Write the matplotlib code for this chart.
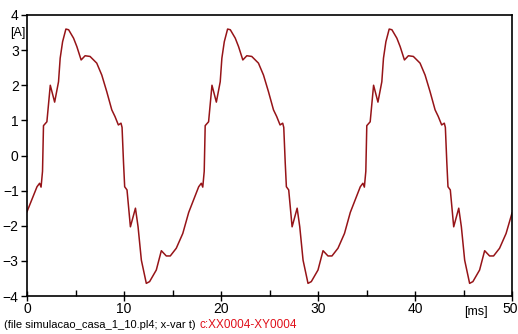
import matplotlib
matplotlib.use("Agg")
import matplotlib.pyplot as plt
from matplotlib.ticker import MultipleLocator

plt.rcParams['font.family'] = ['Liberation Sans', 'DejaVu Sans']

# time [ms]
t_ms = [
    0.00, 1.03, 1.30, 1.45, 1.60, 1.70, 2.05, 2.40, 2.85, 3.25, 3.42, 3.67, 4.01, 4.29,
    4.80, 5.14, 5.58, 5.99, 6.50, 7.19, 7.71, 8.22, 8.74, 9.07, 9.42, 9.69, 9.80, 9.95,
    10.07, 10.31, 10.66, 11.18, 11.45, 11.79, 12.30, 12.64, 13.33, 13.85, 14.36, 14.77,
    15.39, 16.06,
    16.67, 17.70, 17.97, 18.12, 18.27, 18.37, 18.72, 19.07, 19.52, 19.92, 20.09, 20.34,
    20.68, 20.96, 21.47, 21.81, 22.25, 22.66, 23.17, 23.86, 24.38, 24.89, 25.41, 25.74,
    26.09, 26.36, 26.47, 26.62, 26.74, 26.98, 27.33, 27.85, 28.12, 28.46, 28.97, 29.31,
    30.00, 30.52, 31.03, 31.44, 32.06, 32.73,
    33.33, 34.36, 34.63, 34.78, 34.93, 35.03, 35.38, 35.73, 36.18, 36.58, 36.75, 37.00,
    37.34, 37.62, 38.13, 38.47, 38.91, 39.32, 39.83, 40.52, 41.04, 41.55, 42.07, 42.40,
    42.75, 43.02, 43.13, 43.28, 43.40, 43.64, 43.99, 44.51, 44.78, 45.12, 45.63, 45.97,
    46.66, 47.18, 47.69, 48.10, 48.72, 49.39, 50.00,
]

# current [A]
i_a = [
    -1.60, -0.89, -0.79, -0.90, -0.45, 0.85, 0.96, 2.00, 1.52, 2.10, 2.77, 3.24, 3.60, 3.58,
    3.34, 3.10, 2.72, 2.84, 2.82, 2.63, 2.29, 1.82, 1.30, 1.11, 0.87, 0.92, 0.80, -0.20,
    -0.89, -0.98, -2.03, -1.50, -2.03, -2.98, -3.64, -3.59, -3.26, -2.71, -2.86, -2.86,
    -2.64, -2.22,
    -1.62, -0.89, -0.79, -0.90, -0.45, 0.85, 0.96, 2.00, 1.52, 2.10, 2.77, 3.24, 3.60, 3.58,
    3.34, 3.10, 2.72, 2.84, 2.82, 2.63, 2.29, 1.82, 1.30, 1.11, 0.87, 0.92, 0.80, -0.20,
    -0.89, -0.98, -2.03, -1.50, -2.03, -2.98, -3.64, -3.59, -3.26, -2.71, -2.86, -2.86,
    -2.64, -2.22,
    -1.62, -0.89, -0.79, -0.90, -0.45, 0.85, 0.96, 2.00, 1.52, 2.10, 2.77, 3.24, 3.60, 3.58,
    3.34, 3.10, 2.72, 2.84, 2.82, 2.63, 2.29, 1.82, 1.30, 1.11, 0.87, 0.92, 0.80, -0.20,
    -0.89, -0.98, -2.03, -1.50, -2.03, -2.98, -3.64, -3.59, -3.26, -2.71, -2.86, -2.86,
    -2.64, -2.22, -1.64,
]

x_ticks = [0, 10, 20, 30, 40, 50]
x_labels = ['0', '10', '20', '30', '40', '']
y_ticks = [-4, -3, -2, -1, 0, 1, 2, 3, 4]

fig = plt.figure(figsize=(5.18, 3.34), dpi=100)
ax = fig.add_axes([27 / 518, 38 / 334, 485 / 518, 281 / 334])
ax.plot(t_ms, i_a, color='#961418', lw=1.1, solid_joinstyle='round')

ax.set_xlim(0, 50)
ax.set_ylim(-4, 4)
ax.set_xticks(x_ticks)
ax.set_xticklabels(x_labels)
ax.set_yticks(y_ticks)
ax.xaxis.set_minor_locator(MultipleLocator(5))
ax.tick_params(axis='x', which='major', direction='inout', length=7, width=1,
               labelsize=10, pad=1, colors='black')
ax.tick_params(axis='x', which='minor', direction='in', length=4, width=1)
ax.tick_params(axis='y', which='major', direction='out', length=4, width=1,
               labelsize=10, pad=2)
for s in ax.spines.values():
    s.set_linewidth(1.2)
    s.set_color('black')

# last x tick label, nudged inside the canvas as in the reference
fig.text(510 / 518, 1 - 309 / 334, '50', fontsize=10, va='center', ha='center')
fig.text(10 / 518, 1 - 33 / 334, '[A]', fontsize=9, va='center', ha='left')
fig.text(476 / 518, 1 - 312 / 334, '[ms]', fontsize=9, va='center', ha='center')
fig.text(4 / 518, 1 - 325 / 334, '(file simulacao_casa_1_10.pl4; x-var t)',
         fontsize=8, va='center', ha='left', color='black')
fig.text(200 / 518, 1 - 325 / 334, 'c:XX0004-XY0004',
         fontsize=8.5, va='center', ha='left', color='#e0101a')

fig.savefig('out.png', dpi=100, facecolor='white')
